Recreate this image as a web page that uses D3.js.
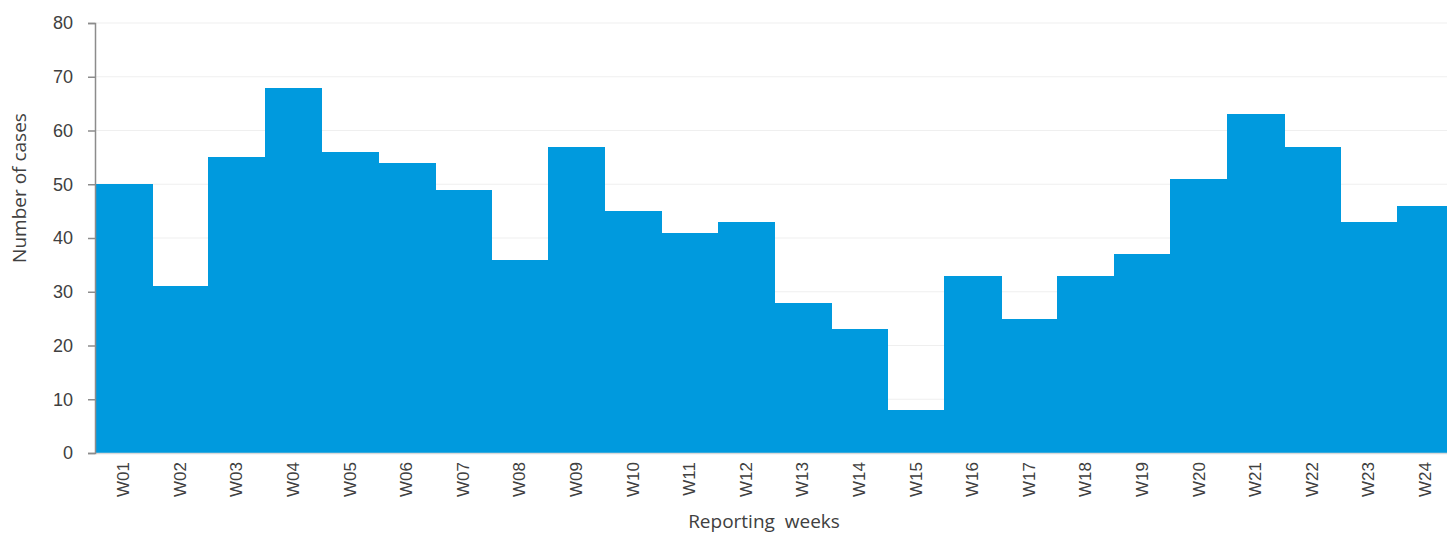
<!DOCTYPE html>
<html>
<head>
<meta charset="utf-8">
<script src="https://cdn.jsdelivr.net/npm/d3@7"></script>
<style>
  body { margin: 0; background: #fff; }
  svg { display: block; }
</style>
</head>
<body>
<svg width="1447" height="535"></svg>
<script>
const weeks = ["W01","W02","W03","W04","W05","W06","W07","W08","W09","W10","W11","W12",
               "W13","W14","W15","W16","W17","W18","W19","W20","W21","W22","W23","W24"];
const cases = [50,31,55,68,56,54,49,36,57,45,41,43,28,23,8,33,25,33,37,51,63,57,43,46];
const yTicks = [0,10,20,30,40,50,60,70,80];

const svg = d3.select("svg"),
      width = +svg.attr("width"),
      height = +svg.attr("height");

const margin = {top: 23, right: 0, bottom: 82, left: 95};
// plot runs a little past the right edge of the page (last bar is clipped)
const plotW = 1358.4,
      plotH = height - margin.top - margin.bottom;

const x = d3.scaleBand().domain(weeks).range([0, plotW]).padding(0);
const y = d3.scaleLinear().domain([0, 80]).range([plotH, 0]);

const g = svg.append("g").attr("transform", `translate(${margin.left},${margin.top})`);

// gridlines
g.append("g").selectAll("line")
  .data(yTicks.filter(d => d > 0)).enter().append("line")
  .attr("x1", 0).attr("x2", plotW)
  .attr("y1", d => y(d)).attr("y2", d => y(d))
  .attr("stroke", "#efefef").attr("stroke-width", 1);

// bars
g.append("g").selectAll("rect")
  .data(weeks).enter().append("rect")
  .attr("x", d => x(d))
  .attr("width", x.bandwidth() + 1)
  .attr("y", (d, i) => y(cases[i]))
  .attr("height", (d, i) => plotH - y(cases[i]))
  .attr("fill", "#009ade")
  .attr("shape-rendering", "crispEdges");

// x axis baseline + labels
const xAxis = g.append("g").attr("transform", `translate(0,${plotH})`)
  .call(d3.axisBottom(x).tickSize(0).tickPadding(0));
xAxis.select(".domain").attr("stroke", "#d9d9d9").attr("stroke-width", 1.5);
xAxis.selectAll("text")
  .attr("transform", "rotate(-90)")
  .attr("text-anchor", "end")
  .attr("x", -9)
  .attr("y", 0)
  .attr("dy", "0.35em")
  .style("font-family", "'Liberation Sans', Arial, sans-serif")
  .style("font-size", "17px")
  .attr("fill", "#404040");

// y axis
const yAxis = g.append("g")
  .call(d3.axisLeft(y).tickValues(yTicks).tickSize(7).tickPadding(15));
yAxis.select(".domain").attr("stroke", "#8c8c8c").attr("stroke-width", 1.5);
yAxis.selectAll(".tick line").attr("stroke", "#8c8c8c").attr("stroke-width", 1.5);
yAxis.selectAll("text")
  .style("font-family", "'Liberation Sans', Arial, sans-serif")
  .style("font-size", "18px")
  .attr("fill", "#404040");

// axis titles
svg.append("text")
  .attr("x", 764)
  .attr("y", 528)
  .attr("text-anchor", "middle")
  .style("font-family", "'Open Sans', 'Noto Sans', sans-serif")
  .style("font-size", "19px")
  .attr("fill", "#404040")
  .attr("xml:space", "preserve")
  .text("Reporting  weeks");

svg.append("text")
  .attr("transform", "translate(26,188) rotate(-90)")
  .attr("text-anchor", "middle")
  .style("font-family", "'Open Sans', 'Noto Sans', sans-serif")
  .style("font-size", "19px")
  .attr("fill", "#404040")
  .text("Number of cases");
</script>
</body>
</html>
